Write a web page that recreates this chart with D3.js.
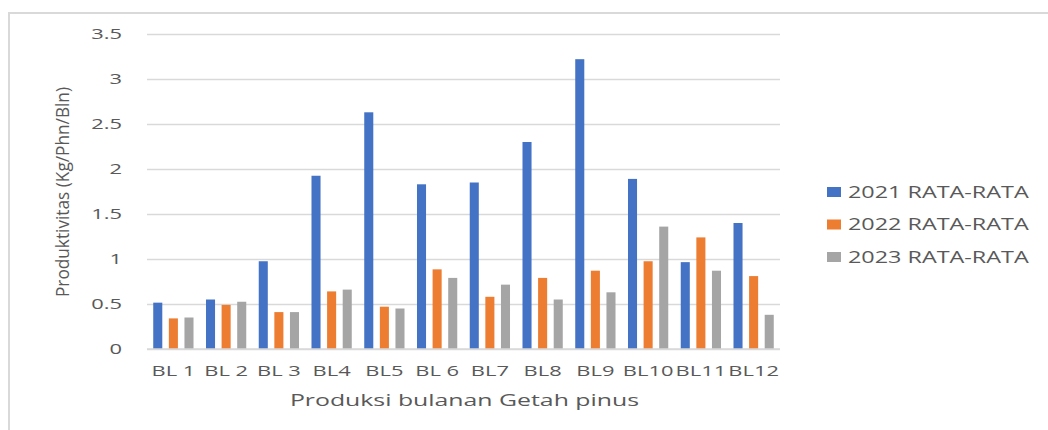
<!DOCTYPE html>
<html lang="en">
<head>
    <meta charset="UTF-8">
    <title>Produksi bulanan Getah pinus</title>
    <script src="https://cdnjs.cloudflare.com/ajax/libs/d3/7.8.5/d3.min.js"></script>
    <style>
        html, body {
            margin: 0;
            padding: 0;
            background: #fff;
        }
        text {
            font-family: "Open Sans", "DejaVu Sans", sans-serif;
            fill: #595959;
        }
    </style>
</head>
<body>
    <div id="chart"></div>
    <script>
        const categories = ["BL 1", "BL 2", "BL 3", "BL4", "BL5", "BL 6", "BL7", "BL8", "BL9", "BL10", "BL11", "BL12"];
        const seriesNames = ["2021 RATA-RATA", "2022 RATA-RATA", "2023 RATA-RATA"];
        const values2021 = [0.515, 0.55, 0.975, 1.925, 2.63, 1.83, 1.85, 2.30, 3.22, 1.89, 0.965, 1.40];
        const values2022 = [0.34, 0.49, 0.41, 0.64, 0.47, 0.885, 0.58, 0.79, 0.87, 0.975, 1.24, 0.81];
        const values2023 = [0.35, 0.525, 0.41, 0.66, 0.45, 0.79, 0.715, 0.55, 0.63, 1.36, 0.87, 0.38];
        const yTicks = [0, 0.5, 1, 1.5, 2, 2.5, 3, 3.5];
        const colors = ["#4472c4", "#ed7d31", "#a5a5a5"];

        const width = 1048, height = 430;
        const plot = { left: 147, right: 780, top: 34, bottom: 349 };
        const STRETCH = 1.46; // the source picture is stretched sideways

        // widen horizontal text to match the stretched look
        function stretch(sel) {
            sel.each(function () {
                const w = this.getComputedTextLength();
                this.setAttribute("textLength", w * STRETCH);
                this.setAttribute("lengthAdjust", "spacingAndGlyphs");
            });
        }

        const svg = d3.select("#chart").append("svg")
            .attr("width", width)
            .attr("height", height);

        // outer frame (only top and left edges are visible)
        svg.append("path")
            .attr("d", `M9,${height} L9,13 L${width},13`)
            .attr("fill", "none")
            .attr("stroke", "#d9d9d9")
            .attr("stroke-width", 2);

        const x = d3.scaleBand().domain(categories).range([plot.left, plot.right]);
        const xs = d3.scaleBand().domain(seriesNames).range([0, x.bandwidth()])
            .paddingInner(0.42).paddingOuter(0.4);
        const y = d3.scaleLinear().domain([0, 3.5]).range([plot.bottom, plot.top]);

        // gridlines + y labels
        const yAxis = svg.append("g")
            .attr("transform", `translate(${plot.left},0)`)
            .call(d3.axisLeft(y).tickValues(yTicks).tickSize(-(plot.right - plot.left))
                .tickPadding(25).tickFormat(d3.format("")));
        yAxis.select(".domain").remove();
        yAxis.selectAll("line").attr("stroke", "#d9d9d9").attr("stroke-width", 1.5);
        yAxis.selectAll("text").attr("font-size", 15).attr("fill", "#595959").call(stretch);

        const series = [values2021, values2022, values2023];
        series.forEach((vals, i) => {
            svg.append("g").selectAll("rect")
                .data(vals)
                .join("rect")
                .attr("x", (d, j) => x(categories[j]) + xs(seriesNames[i]))
                .attr("width", xs.bandwidth())
                .attr("y", d => y(d))
                .attr("height", d => y(0) - y(d))
                .attr("fill", colors[i]);
        });

        // baseline
        svg.append("line")
            .attr("x1", plot.left).attr("x2", plot.right)
            .attr("y1", y(0)).attr("y2", y(0))
            .attr("stroke", "#d9d9d9").attr("stroke-width", 1.5);

        // x labels
        const xAxis = svg.append("g")
            .attr("transform", `translate(0,${plot.bottom})`)
            .call(d3.axisBottom(x).tickSize(0).tickPadding(16));
        xAxis.select(".domain").remove();
        xAxis.selectAll("text").attr("font-size", 15).attr("fill", "#595959").call(stretch);

        svg.append("text")
            .attr("x", (plot.left + plot.right) / 2 + 1)
            .attr("y", 406)
            .attr("text-anchor", "middle")
            .attr("font-size", 17)
            .text("Produksi bulanan Getah pinus")
            .call(stretch);

        svg.append("text")
            .attr("transform", `translate(69,192) rotate(-90)`)
            .attr("text-anchor", "middle")
            .attr("font-size", 19)
            .attr("textLength", 210)
            .attr("lengthAdjust", "spacingAndGlyphs")
            .text("Produktivitas (Kg/Phn/Bln)");

        // legend
        const legend = svg.append("g").attr("transform", "translate(827,192)");
        seriesNames.forEach((name, i) => {
            const g = legend.append("g").attr("transform", `translate(0,${i * 32.5})`);
            g.append("rect").attr("x", 0).attr("y", -5).attr("width", 14).attr("height", 10)
                .attr("fill", colors[i]);
            g.append("text").attr("x", 21).attr("y", 0).attr("dy", "0.35em")
                .attr("font-size", 16)
                .text(name)
                .call(stretch);
        });
    </script>
</body>
</html>
